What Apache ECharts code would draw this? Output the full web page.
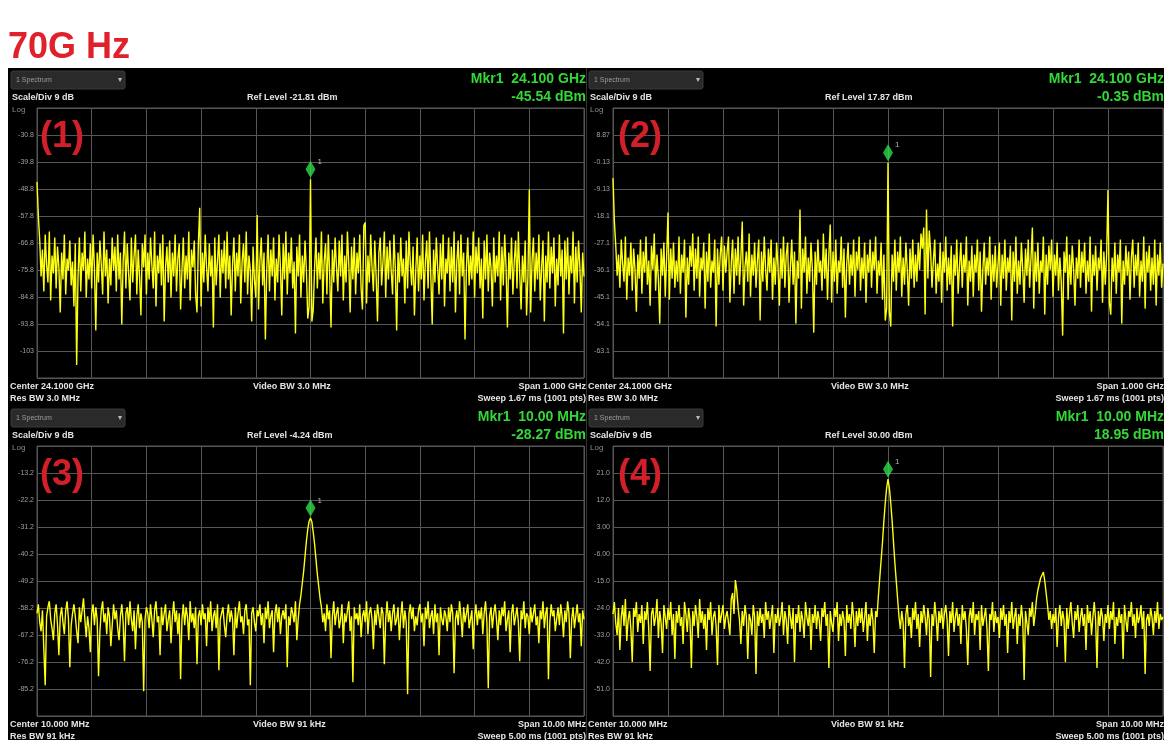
<!DOCTYPE html>
<html>
<head>
<meta charset="utf-8">
<script src="https://cdn.jsdelivr.net/npm/echarts@6/dist/echarts.min.js"></script>
<style>
html, body { margin: 0; padding: 0; background: #fff; }
#c { width: 1164px; height: 740px; }
</style>
</head>
<body>
<div id="c"></div>
<script>
// Analyzer settings for the four captures
const refLevels = [-21.81, 17.87, -4.24, 30.00];   // dBm, top graticule line
const scaleDiv = 9;                                // dB per division
const centers = [24.1, 24.1, 10, 10];              // GHz, GHz, MHz, MHz
const spans = [1, 1, 10, 10];
const mkrDbm = [-45.54, -0.35, -28.27, 18.95];
const mkrFreqText = ['24.100 GHz', '24.100 GHz', '10.00 MHz', '10.00 MHz'];
const centerText = ['Center 24.1000 GHz', 'Center 24.1000 GHz', 'Center 10.000 MHz', 'Center 10.000 MHz'];
const resBwText = ['Res BW 3.0 MHz', 'Res BW 3.0 MHz', 'Res BW 91 kHz', 'Res BW 91 kHz'];
const videoBwText = ['Video BW 3.0 MHz', 'Video BW 3.0 MHz', 'Video BW 91 kHz', 'Video BW 91 kHz'];
const spanText = ['Span 1.000 GHz', 'Span 1.000 GHz', 'Span 10.00 MHz', 'Span 10.00 MHz'];
const sweepText = ['Sweep 1.67 ms (1001 pts)', 'Sweep 1.67 ms (1001 pts)', 'Sweep 5.00 ms (1001 pts)', 'Sweep 5.00 ms (1001 pts)'];
const panelTags = ['(1)', '(2)', '(3)', '(4)'];
const titleText = '70G Hz';

// Trace amplitudes (dBm), evenly spaced across each span
const trace1 = [
  -46.5, -58, -66, -78, -69, -83, -64, -74, -80, -63, -86, -71, -77, -65, -82, -68, -75, -90, -70, -79,
  -64, -84, -72, -76, -66, -81, -73, -88, -67, -107.5, -78, -65, -83, -70, -76, -63, -85, -72, -79, -67,
  -82, -64, -75, -96, -70, -80, -66, -74, -84, -63, -78, -69, -87, -72, -81, -65, -76, -68, -83, -64,
  -79, -70, -94, -73, -63, -82, -67, -77, -86, -65, -80, -71, -64, -84, -69, -78, -91, -67, -75, -64,
  -84, -70, -79, -65, -74, -82, -63, -88, -71, -77, -67, -81, -64, -93, -75, -68, -80, -66, -85, -70,
  -78, -64, -83, -72, -67, -89, -76, -65, -82, -71, -79, -63, -86, -69, -75, -66, -84, -90, -67, -55.1,
  -88, -70, -80, -64, -75, -83, -67, -78, -71, -95, -65, -81, -73, -64, -85, -69, -77, -66, -82, -63,
  -79, -71, -91, -74, -65, -83, -70, -78, -64, -87, -73, -67, -80, -63, -84, -71, -76, -93, -68, -79,
  -85, -57.5, -89, -73, -65, -81, -70, -99, -76, -64, -83, -69, -78, -65, -86, -72, -80, -64, -75, -91,
  -67, -79, -63, -84, -70, -77, -65, -82, -73, -97, -68, -78, -64, -85, -71, -80, -66, -76, -92, -88,
  -45.54, -93, -89, -75, -65, -82, -70, -79, -63, -87, -73, -67, -84, -64, -77, -95, -69, -80, -65, -75,
  -83, -66, -78, -64, -86, -71, -80, -63, -74, -90, -68, -79, -65, -84, -70, -77, -64, -82, -89, -61,
  -60, -87, -71, -80, -64, -75, -83, -66, -78, -93, -70, -65, -81, -73, -63, -85, -68, -79, -66, -76,
  -84, -64, -75, -96, -70, -80, -65, -78, -72, -87, -66, -82, -63, -74, -81, -68, -91, -76, -65, -83,
  -71, -79, -64, -86, -73, -66, -82, -63, -78, -94, -69, -80, -65, -75, -84, -67, -79, -64, -88, -72,
  -77, -65, -83, -68, -80, -63, -90, -73, -66, -84, -64, -78, -70, -99, -75, -65, -81, -71, -79, -63,
  -85, -68, -77, -65, -82, -72, -92, -66, -79, -64, -83, -70, -75, -88, -65, -80, -71, -78, -63, -86,
  -68, -81, -64, -75, -95, -70, -79, -65, -84, -73, -66, -82, -63, -77, -89, -71, -80, -66, -91, -78,
  -49, -90, -73, -65, -83, -70, -79, -64, -86, -75, -66, -93, -71, -80, -63, -82, -68, -77, -65, -88,
  -72, -81, -64, -78, -69, -97, -66, -79, -65, -84, -71, -77, -63, -87, -68, -80, -66, -75, -90, -70,
  -78
];
const trace2 = [
  -5.5, -20, -28, -38, -31, -42, -26, -34, -40, -25, -46, -32, -38, -27, -43, -29, -36, -50, -31, -39,
  -26, -44, -30, -37, -25, -41, -33, -48, -28, -36, -24, -43, -31, -39, -54, -29, -38, -27, -45, -32,
  -17, -46, -29, -39, -27, -42, -33, -40, -25, -44, -31, -37, -26, -52, -32, -41, -28, -35, -24, -43,
  -29, -39, -25, -45, -32, -36, -27, -49, -30, -40, -24, -42, -33, -37, -26, -55, -29, -41, -31, -25,
  -43, -28, -37, -30, -25, -47, -34, -26, -44, -29, -38, -25, -41, -32, -20, -48, -35, -30, -40, -24,
  -45, -31, -38, -27, -42, -33, -26, -53, -30, -40, -25, -36, -43, -29, -37, -26, -46, -32, -41, -27,
  -35, -48, -29, -39, -25, -42, -31, -27, -47, -35, -26, -41, -30, -54, -33, -39, -16, -49, -29, -37,
  -25, -44, -32, -40, -27, -36, -57, -30, -41, -26, -37, -33, -43, -24, -39, -29, -46, -31, -21, -47,
  -30, -40, -26, -44, -33, -37, -25, -42, -29, -52, -34, -27, -41, -31, -38, -26, -45, -30, -36, -25,
  -43, -32, -39, -27, -47, -31, -37, -26, -42, -30, -36, -25, -44, -33, -38, -27, -46, -31, -53, -49,
  -0.35, -50, -55, -31, -40, -26, -43, -30, -37, -25, -45, -32, -41, -27, -36, -48, -29, -39, -26, -42,
  -31, -40, -27, -36, -24, -29, -22, -51, -16, -39, -23, -30, -42, -33, -26, -44, -34, -40, -27, -47,
  -30, -37, -25, -43, -32, -41, -28, -55, -31, -38, -26, -44, -35, -27, -42, -31, -37, -25, -48, -33,
  -40, -28, -45, -31, -37, -26, -43, -30, -50, -36, -27, -41, -32, -38, -25, -46, -31, -40, -28, -42,
  -34, -27, -48, -31, -39, -26, -43, -32, -37, -28, -53, -30, -40, -25, -44, -33, -41, -27, -36, -47,
  -29, -38, -26, -42, -32, -22, -49, -30, -40, -27, -44, -33, -37, -25, -51, -31, -41, -28, -36, -26,
  -45, -31, -38, -27, -43, -32, -40, -58, -30, -37, -25, -46, -31, -41, -28, -36, -48, -32, -39, -26,
  -42, -30, -37, -27, -44, -33, -40, -25, -50, -31, -38, -28, -43, -32, -36, -26, -47, -30, -41, -31,
  -9.5, -47, -51, -32, -40, -27, -44, -31, -37, -26, -54, -33, -41, -28, -38, -30, -46, -32, -26, -42,
  -31, -38, -27, -45, -33, -40, -25, -49, -30, -37, -28, -43, -32, -41, -26, -48, -31, -38, -27, -42,
  -34
];
const trace3 = [
  -60, -57, -63, -66, -59, -72, -84, -61, -58, -56, -62, -65, -69, -60, -57, -64, -74, -61, -58, -63,
  -67, -59, -56, -62, -78, -64, -60, -57, -61, -66, -70, -58, -63, -59, -55, -62, -68, -61, -65, -73,
  -60, -57, -64, -58, -62, -81, -66, -59, -56, -63, -60, -67, -58, -61, -71, -64, -57, -62, -59, -65,
  -69, -61, -57, -63, -76, -60, -58, -64, -56, -62, -66, -59, -72, -61, -57, -65, -60, -63, -86, -62,
  -58, -60, -65, -57, -62, -68, -59, -56, -63, -61, -74, -58, -64, -60, -57, -66, -62, -59, -70, -61,
  -56, -63, -59, -67, -60, -82, -62, -57, -64, -58, -61, -69, -56, -63, -60, -65, -58, -77, -61, -59,
  -64, -57, -62, -60, -71, -58, -63, -56, -66, -61, -59, -65, -57, -79, -62, -60, -58, -64, -68, -61,
  -57, -63, -59, -62, -74, -58, -65, -60, -56, -63, -61, -67, -59, -57, -64, -62, -84, -60, -58, -63,
  -66, -59, -61, -57, -64, -60, -70, -58, -62, -56, -65, -61, -59, -73, -60, -57, -63, -58, -67, -61,
  -59, -62, -57, -78, -61, -64, -58, -60, -63, -56, -69, -62, -57, -54, -50, -46, -41, -36, -32, -29.3,
  -28.27, -29.5, -33, -37, -42, -47, -51, -55, -58, -63, -60, -66, -57, -62, -59, -75, -61, -56, -64, -60,
  -58, -65, -62, -57, -70, -60, -63, -59, -56, -66, -61, -83, -58, -62, -60, -64, -57, -68, -61, -59,
  -63, -56, -67, -60, -58, -62, -72, -59, -64, -57, -61, -65, -58, -60, -77, -62, -56, -63, -59, -66,
  -60, -57, -64, -62, -58, -69, -61, -56, -65, -59, -63, -87, -60, -57, -62, -58, -66, -61, -64, -59,
  -57, -63, -60, -71, -58, -62, -56, -65, -61, -59, -67, -57, -63, -60, -74, -58, -62, -64, -59, -61,
  -66, -58, -63, -57, -60, -80, -62, -59, -64, -56, -61, -68, -58, -63, -60, -57, -65, -62, -59, -72,
  -61, -57, -64, -59, -62, -58, -67, -60, -56, -63, -85, -61, -58, -65, -60, -57, -62, -69, -59, -64,
  -58, -61, -56, -66, -62, -59, -73, -60, -57, -64, -61, -58, -63, -76, -59, -62, -56, -65, -60, -61,
  -67, -58, -63, -60, -57, -64, -61, -70, -59, -62, -56, -65, -60, -58, -82, -63, -57, -61, -59, -66,
  -62, -58, -64, -57, -61, -68, -59, -63, -56, -60, -75, -62, -58, -65, -61, -57, -63, -60, -71, -59,
  -62
];
const trace4 = [
  -26, -22, -29, -33, -24, -38, -27, -23, -30, -21, -35, -28, -25, -31, -42, -24, -27, -22, -32, -26,
  -29, -23, -36, -25, -28, -22, -31, -45, -26, -24, -30, -27, -21, -34, -25, -29, -39, -23, -27, -31,
  -24, -28, -22, -33, -26, -41, -25, -29, -23, -30, -27, -36, -22, -26, -32, -24, -28, -44, -25, -30,
  -23, -27, -34, -21, -29, -25, -31, -26, -38, -24, -28, -22, -33, -27, -25, -30, -43, -23, -29, -26,
  -23, -31, -27, -25, -29, -33, -21, -19, -26, -14.7, -18, -24, -28, -36, -25, -30, -23, -27, -41, -26,
  -28, -33, -23, -27, -46, -25, -30, -24, -29, -26, -34, -22, -28, -25, -31, -27, -23, -39, -26, -29,
  -24, -30, -27, -22, -33, -25, -28, -36, -23, -27, -31, -24, -42, -26, -29, -23, -32, -25, -28, -34,
  -22, -27, -30, -24, -38, -26, -29, -23, -31, -25, -28, -35, -24, -27, -22, -30, -26, -44, -25, -29,
  -32, -24, -27, -22, -35, -26, -30, -25, -28, -40, -23, -29, -26, -31, -22, -27, -37, -25, -30, -24,
  -29, -24, -32, -27, -22, -35, -26, -30, -24, -28, -39, -25, -27, -20, -14, -8, -2, 5, 11, 16,
  18.95, 16, 11, 5, -2, -9, -15, -21, -27, -31, -25, -29, -44, -26, -23, -30, -27, -34, -24, -28,
  -22, -31, -26, -37, -25, -29, -23, -27, -33, -24, -28, -47, -26, -30, -22, -27, -35, -25, -29, -24,
  -31, -26, -23, -28, -40, -25, -29, -22, -32, -27, -24, -30, -26, -36, -23, -28, -25, -31, -43, -27,
  -24, -29, -22, -33, -26, -28, -25, -38, -23, -30, -27, -24, -31, -45, -26, -28, -22, -32, -25, -29,
  -27, -34, -24, -28, -23, -30, -26, -39, -25, -29, -22, -31, -27, -24, -36, -26, -30, -23, -28, -48,
  -25, -29, -33, -24, -27, -22, -30, -26, -21, -18, -16, -14, -13, -12, -15, -19, -23, -28, -25, -31,
  -26, -29, -24, -37, -27, -23, -30, -25, -28, -42, -24, -31, -26, -22, -29, -34, -25, -28, -23, -32,
  -27, -24, -30, -26, -38, -23, -29, -25, -33, -27, -22, -28, -44, -25, -30, -24, -27, -35, -26, -29,
  -23, -31, -25, -28, -22, -36, -27, -30, -24, -29, -26, -41, -23, -28, -32, -25, -27, -22, -30, -26,
  -34, -24, -29, -27, -23, -31, -25, -46, -28, -26, -30, -24, -27, -33, -25, -29, -22, -31, -26, -28,
  -27
];
const traces = [trace1, trace2, trace3, trace4];

// Screen layout of each analyzer window: origin, graticule left/top/width
const panels = [
  { x: 8,   y: 68,  gl: 37,  gt: 108, gw: 547 },
  { x: 586, y: 68,  gl: 613, gt: 108, gw: 550 },
  { x: 8,   y: 406, gl: 37,  gt: 446, gw: 547 },
  { x: 586, y: 406, gl: 613, gt: 446, gw: 550 }
];
const GH = 270;
const PW = 578;
const GRID_COLOR = '#565656';
const UI_FONT = '"Liberation Sans", Arial, sans-serif';

function fmtDb(v) {
  v = Math.round(v * 100) / 100;
  return Math.abs(v) < 1 ? v.toFixed(2) : v.toPrecision(3);
}

function txt(x, y, text, extra) {
  return {
    type: 'text', x: x, y: y, z: 20,
    style: Object.assign({
      text: text, fill: '#e4e4e4', font: 'bold 9px ' + UI_FONT,
      textAlign: 'left', textVerticalAlign: 'middle'
    }, extra || {})
  };
}

const grids = [], xAxes = [], yAxes = [], series = [];
const graphics = [
  { type: 'rect', shape: { x: 8, y: 68, width: 1156, height: 672 }, style: { fill: '#000' }, z: -5 },
  { type: 'line', shape: { x1: 586.5, y1: 68, x2: 586.5, y2: 740 }, style: { stroke: '#333', lineWidth: 1 }, z: -4 },
  txt(8, 48, titleText, { fill: '#e0202b', font: 'bold 36px ' + UI_FONT })
];

panels.forEach(function (p, k) {
  const start = centers[k] - spans[k] / 2;
  const stop = centers[k] + spans[k] / 2;
  grids.push({
    left: p.gl, top: p.gt, width: p.gw, height: GH,
    show: true, borderColor: GRID_COLOR, borderWidth: 1, backgroundColor: 'transparent'
  });
  xAxes.push({
    gridIndex: k, type: 'value', min: start, max: stop, interval: spans[k] / 10,
    axisLine: { show: false }, axisTick: { show: false }, axisLabel: { show: false },
    splitLine: { show: true, lineStyle: { color: GRID_COLOR, width: 1 } }
  });
  yAxes.push({
    gridIndex: k, type: 'value',
    min: refLevels[k] - scaleDiv * 10, max: refLevels[k], interval: scaleDiv,
    axisLine: { show: false }, axisTick: { show: false },
    splitLine: { show: true, lineStyle: { color: GRID_COLOR, width: 1 } },
    axisLabel: {
      showMinLabel: false, showMaxLabel: false, color: '#a0a0a0',
      fontSize: 7, fontFamily: 'Liberation Sans', margin: 3, formatter: fmtDb
    }
  });
  const tr = traces[k];
  const step = spans[k] / (tr.length - 1);
  series.push({
    type: 'line', xAxisIndex: k, yAxisIndex: k,
    data: tr.map(function (v, i) { return [start + i * step, v]; }),
    showSymbol: false, symbol: 'none', silent: true, animation: false,
    lineStyle: { color: '#ffff12', width: 1.4 }, z: 3
  });
  series.push({
    type: 'scatter', xAxisIndex: k, yAxisIndex: k,
    data: [[centers[k], mkrDbm[k]]],
    symbol: 'diamond', symbolSize: [10, 17], symbolOffset: [0, -10],
    itemStyle: { color: '#2fdc48' }, animation: false, z: 5,
    label: { show: true, formatter: '1', position: [12, -3], color: '#dcdcdc', fontSize: 8, fontFamily: 'Liberation Sans' }
  });

  const x0 = p.x, y0 = p.gt - 40, right = p.x + PW;
  const yb = p.gt + GH;
  graphics.push(
    { type: 'rect', shape: { x: x0 + 3, y: y0 + 3, width: 114, height: 18, r: 2 }, style: { fill: '#2a2a2a', stroke: '#3a3a3a' }, z: 10 },
    txt(x0 + 8, y0 + 12, '1 Spectrum', { fill: '#9c9c9c', font: '7px ' + UI_FONT }),
    txt(x0 + 110, y0 + 12, '\u25BE', { fill: '#bbb', font: '8px ' + UI_FONT }),
    txt(x0 + 4, y0 + 30, 'Scale/Div ' + scaleDiv + ' dB'),
    txt(x0 + 239, y0 + 30, 'Ref Level ' + refLevels[k].toFixed(2) + ' dBm'),
    txt(right, y0 + 11, 'Mkr1  ' + mkrFreqText[k], { fill: '#33d838', font: 'bold 14px ' + UI_FONT, textAlign: 'right' }),
    txt(right, y0 + 29, mkrDbm[k].toFixed(2) + ' dBm', { fill: '#33d838', font: 'bold 14px ' + UI_FONT, textAlign: 'right' }),
    txt(x0 + 4, y0 + 42, 'Log', { fill: '#8a8a8a', font: '8px ' + UI_FONT }),
    txt(x0 + 32, y0 + 69, panelTags[k], { fill: '#d31f2a', font: 'bold 36px ' + UI_FONT }),
    txt(x0 + 2, yb + 9, centerText[k]),
    txt(x0 + 2, yb + 21, resBwText[k]),
    txt(x0 + 245, yb + 9, videoBwText[k]),
    txt(right, yb + 9, spanText[k], { textAlign: 'right' }),
    txt(right, yb + 21, sweepText[k], { textAlign: 'right' })
  );
});

const chart = echarts.init(document.getElementById('c'), null, { renderer: 'canvas' });
chart.setOption({
  backgroundColor: '#ffffff',
  animation: false,
  grid: grids,
  xAxis: xAxes,
  yAxis: yAxes,
  series: series,
  graphic: { elements: graphics }
});
</script>
</body>
</html>
